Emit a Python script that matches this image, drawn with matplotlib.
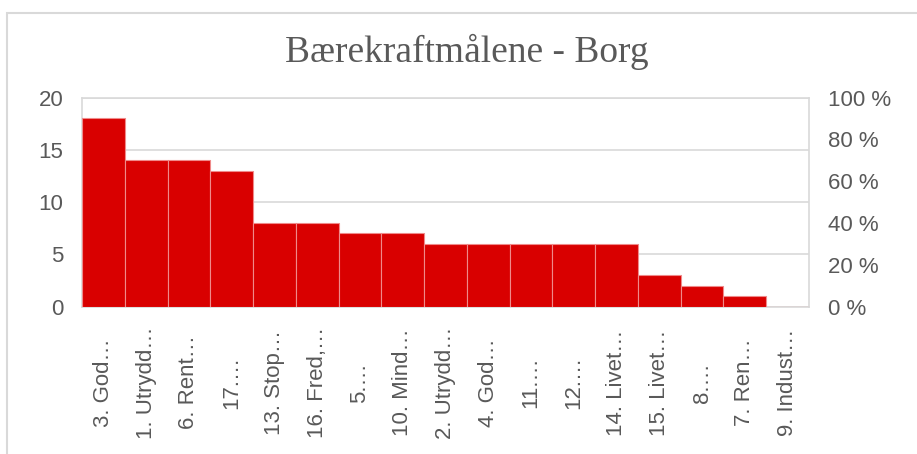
import matplotlib.pyplot as plt
from matplotlib.patches import Rectangle
from matplotlib.ticker import FixedLocator

# data
categories = [
    "3. God…", "1. Utrydd…", "6. Rent…", "17.…", "13. Stop…", "16. Fred,…",
    "5.…", "10. Mind…", "2. Utrydd…", "4. God…", "11.…", "12.…",
    "14. Livet…", "15. Livet…", "8.…", "7. Ren…", "9. Indust…",
]
counts = [18, 14, 14, 13, 8, 8, 7, 7, 6, 6, 6, 6, 6, 3, 2, 1, 0]
left_ticks = [0, 5, 10, 15, 20]
right_ticks = [0, 0.2, 0.4, 0.6, 0.8, 1.0]
right_labels = ["0 %", "20 %", "40 %", "60 %", "80 %", "100 %"]

W, H = 917, 454
text_col = "#595959"
grid_col = "#d9d9d9"
bar_col = "#d90000"

plt.rcParams["font.family"] = ["Liberation Sans", "DejaVu Sans"]

fig = plt.figure(figsize=(W / 100, H / 100), dpi=100)

# outer chart border
fig.patches.append(Rectangle(
    (6.5 / W, -0.1), 2, (H - 13.5) / H + 0.1,
    transform=fig.transFigure, fill=False, edgecolor=grid_col, linewidth=1.5
))

ax = fig.add_axes([82 / W, 1 - 306.7 / H, 727 / W, 209.2 / H])

x = list(range(len(categories)))
ax.bar(x, counts, width=1.0, color=bar_col, edgecolor="#ef8a8a",
       linewidth=0.8, zorder=3)

ax.set_xlim(-0.5, len(categories) - 0.5)
ax.set_ylim(0, 20)
ax.set_yticks(left_ticks)
ax.yaxis.grid(True, color=grid_col, linewidth=1.2, zorder=0)
ax.set_axisbelow(True)

ax.set_xticks(x)
ax.set_xticklabels(categories, rotation=90, va="center", ha="center")
ax.tick_params(axis="x", length=0, pad=54.5, labelsize=16, labelcolor=text_col)
ax.tick_params(axis="y", length=0, pad=13.5, labelsize=16, labelcolor=text_col)

for s in ax.spines.values():
    s.set_color(grid_col)
    s.set_linewidth(1.2)

ax2 = ax.twinx()
ax2.set_ylim(0, 1)
ax2.yaxis.set_major_locator(FixedLocator(right_ticks))
ax2.set_yticklabels(right_labels)
ax2.tick_params(axis="y", length=0, pad=13.5, labelsize=16, labelcolor=text_col)
for s in ax2.spines.values():
    s.set_visible(False)

fig.text(467 / W, 1 - 62 / H, "Bærekraftmålene - Borg", ha="center",
         va="baseline", fontsize=27, color=text_col,
         family=["Liberation Serif", "DejaVu Serif"])

fig.savefig("out.png", dpi=100)
